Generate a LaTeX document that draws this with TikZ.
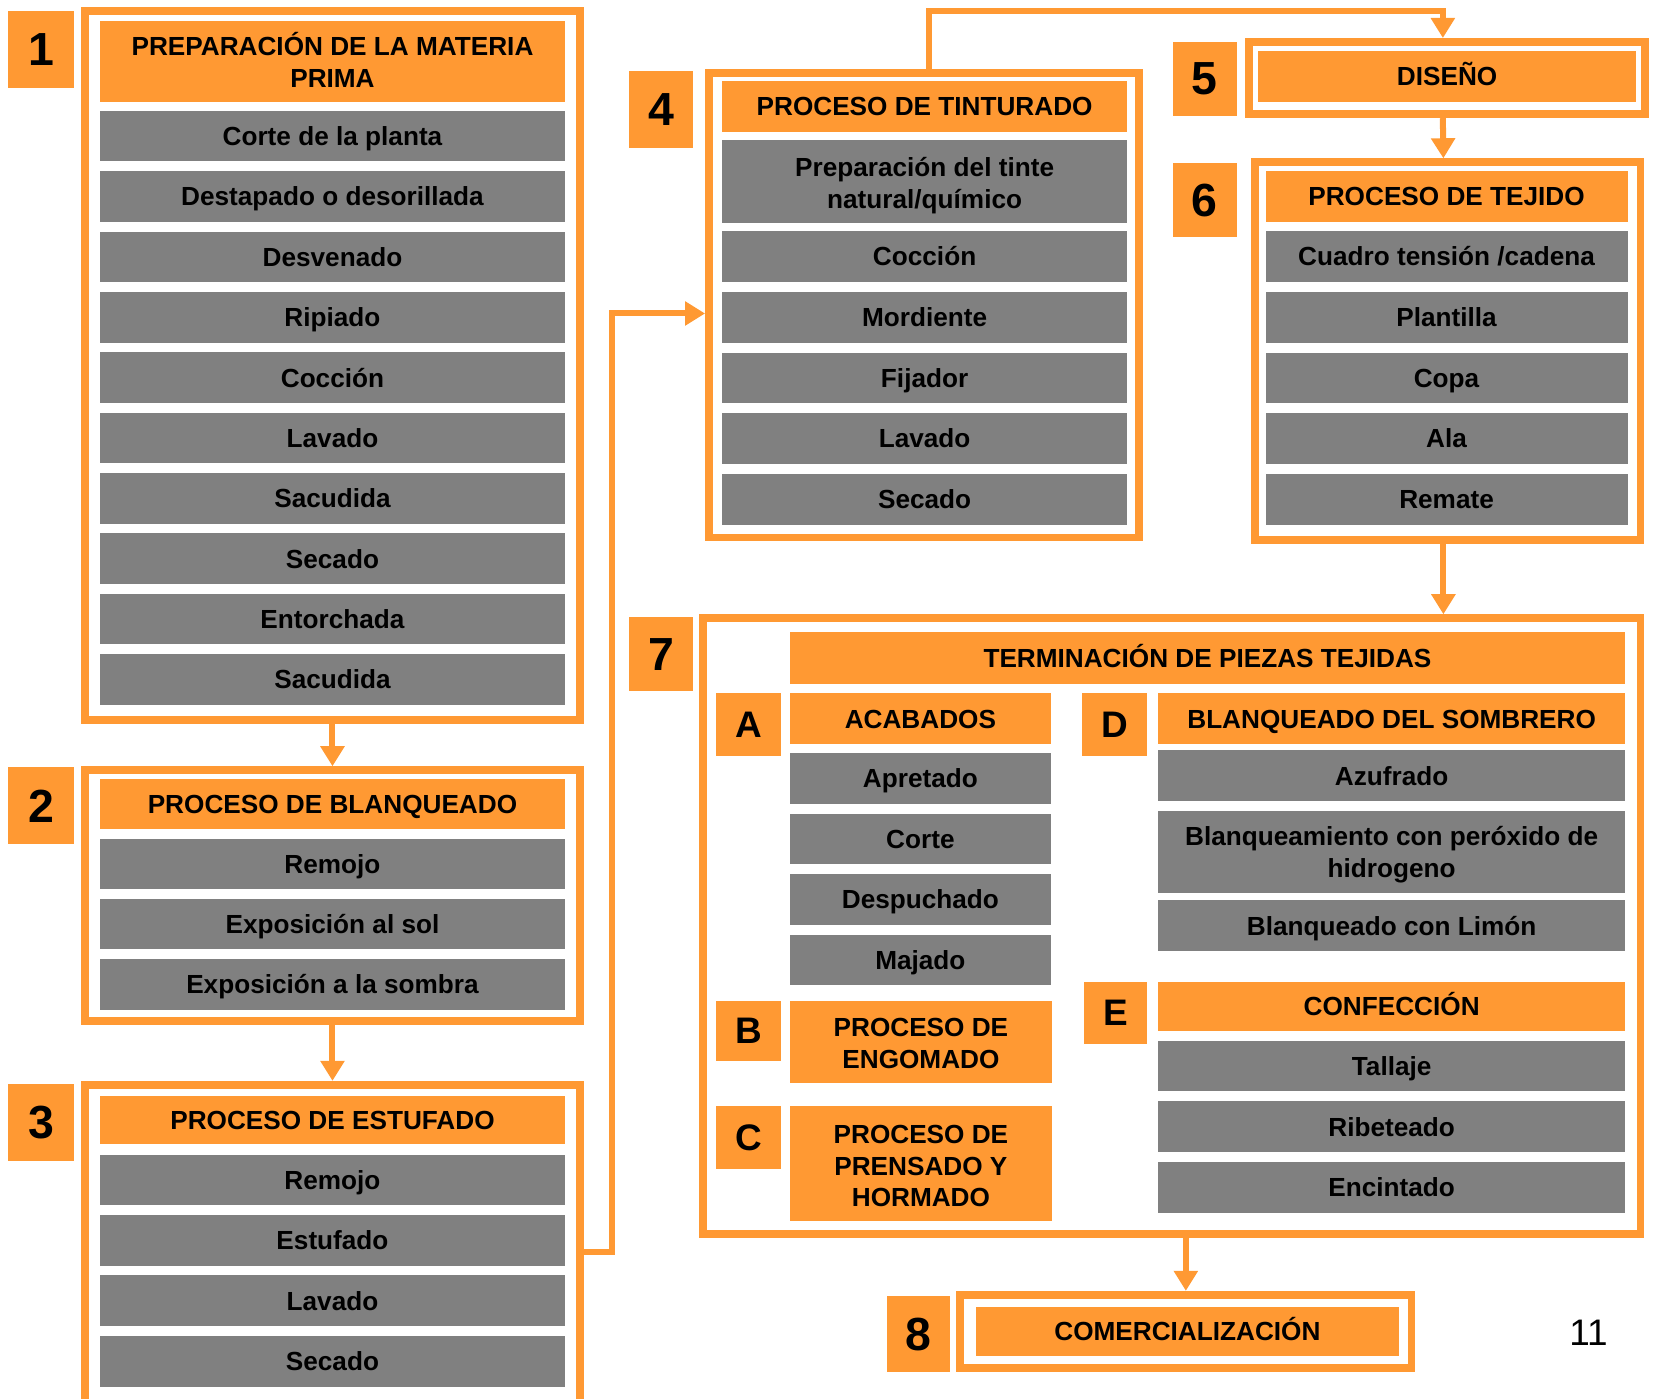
\documentclass[tikz,border=0pt]{standalone}
\usepackage{fontspec}
\setmainfont{Liberation Sans}
\usetikzlibrary{arrows.meta}
\definecolor{naranja}{HTML}{FF9933}
\definecolor{gris}{HTML}{808080}

\begin{document}
\begin{tikzpicture}[x=1pt, y=-1pt,
        marco/.style={draw=naranja, line width=7.5pt, fill=white, inner sep=0pt},
        titulo/.style={fill=naranja, inner sep=0pt, align=center, text height=17.8pt, text depth=0pt,
            font=\bfseries\fontsize{24.8}{30}\selectfont},
        paso/.style={fill=gris, inner sep=0pt, align=center, text height=17.8pt, text depth=0pt,
            font=\bfseries\fontsize{24.8}{30}\selectfont},
        varias/.style={text height=, text depth=},
        num/.style={fill=naranja, inner sep=0pt, font=\bfseries\fontsize{44}{44}\selectfont},
        letra/.style={fill=naranja, inner sep=0pt, font=\bfseries\fontsize{35}{35}\selectfont},
        tam/.style 2 args={minimum width=#1pt, minimum height=#2pt},
        flecha/.style={draw=naranja, line width=5.7pt, -{Triangle[width=22pt, length=19pt]}}]
        \useasboundingbox (0,0) rectangle (1568,1325);

        % Frames
        \node[marco, tam={468.5}{671.5}] (f1) at (315,346.5) {};
        \node[marco, tam={468.5}{237.5}] (f2) at (315,848.5) {};
        \node[marco, tam={468.5}{317.25}] (f3) at (315,1186.4) {};
        \node[marco, tam={407.5}{440.5}] (f4) at (875.5,289) {};
        \node[marco, tam={374.5}{68.5}] (f5) at (1371,74) {};
        \node[marco, tam={365.5}{357.5}] (f6) at (1371.5,332.5) {};
        \node[marco, tam={888.5}{583.5}] (f7) at (1110,877.5) {};
        \node[marco, tam={427.5}{69.5}] (f8) at (1123.5,1261.5) {};

        % Numbers
        \node[num, tam={62}{73}] (n1) at (39,46.5) {1};
        \node[num, tam={62}{73}] (n2) at (39,763.5) {2};
        \node[num, tam={62}{73}] (n3) at (39,1063.5) {3};
        \node[num, tam={61}{73}] (n4) at (626.5,103.5) {4};
        \node[num, tam={61}{70}] (n5) at (1141.5,75) {5};
        \node[num, tam={61}{71}] (n6) at (1141.5,189.5) {6};
        \node[num, tam={61}{70}] (n7) at (626.5,620) {7};
        \node[num, tam={60}{72}] (n8) at (870,1264) {8};

        % 1: materia prima
        \node[titulo, varias, tam={440}{77}] (h1) at (315,58.5) {PREPARACIÓN DE LA MATERIA\\PRIMA\rule[-4pt]{0pt}{4pt}};
        \foreach \t [count=\i] in {Corte de la planta, Destapado o desorillada, Desvenado, Ripiado,
            Cocción, Lavado, Sacudida, Secado, Entorchada, Sacudida}
            \node[paso, tam={440}{48}] (r1\i) at (315,{129+57.2*(\i-1)}) {\t};

        % 2: blanqueado
        \node[titulo, tam={440}{47}] (h2) at (315,761.5) {PROCESO DE BLANQUEADO};
        \foreach \t [count=\i] in {Remojo, Exposición al sol, Exposición a la sombra}
            \node[paso, tam={440}{48}] (r2\i) at (315,{818.5+57*(\i-1)}) {\t};

        % 3: estufado
        \node[titulo, tam={440}{46}] (h3) at (315,1061) {PROCESO DE ESTUFADO};
        \foreach \t [count=\i] in {Remojo, Estufado, Lavado, Secado}
            \node[paso, tam={440}{48}] (r3\i) at (315,{1118+57.2*(\i-1)}) {\t};

        % 4: tinturado
        \node[titulo, tam={384}{48}] (h4) at (876,101) {PROCESO DE TINTURADO};
        \node[paso, varias, tam={384}{78}] (r40) at (876,172) {\rule{0pt}{26pt}Preparación del tinte\\natural/químico};
        \foreach \t [count=\i] in {Cocción, Mordiente, Fijador, Lavado, Secado}
            \node[paso, tam={384}{48}] (r4\i) at (876,{243+57.5*(\i-1)}) {\t};

        % 5: diseno
        \node[titulo, tam={358}{49}] (h5) at (1371,72.5) {DISEÑO};

        % 6: tejido
        \node[titulo, tam={343}{48}] (h6) at (1370.5,186) {PROCESO DE TEJIDO};
        \foreach \t [count=\i] in {Cuadro tensión /cadena, Plantilla, Copa, Ala, Remate}
            \node[paso, tam={343}{48}] (r6\i) at (1370.5,{243+57.5*(\i-1)}) {\t};

        % 7: terminacion
        \node[titulo, tam={792}{49}] (h7) at (1144,623.5) {TERMINACIÓN DE PIEZAS TEJIDAS};
        \node[letra, tam={62}{59}] (la) at (709,686.5) {A};
        \node[titulo, tam={248}{48}] (ha) at (872,681) {ACABADOS};
        \foreach \t [count=\i] in {Apretado, Corte, Despuchado, Majado}
            \node[paso, tam={248}{48}] (ra\i) at (872,{737.5+57.3*(\i-1)}) {\t};
        \node[letra, tam={62}{57}] (lb) at (709,976.5) {B};
        \node[titulo, varias, tam={249}{78}] (hb) at (872.5,987) {\rule{0pt}{21pt}PROCESO DE\\ENGOMADO};
        \node[letra, tam={62}{60}] (lc) at (709,1078) {C};
        \node[titulo, varias, tam={249}{109}] (hc) at (872.5,1102.5) {\rule{0pt}{22pt}PROCESO DE\\PRENSADO Y\\HORMADO};
        \node[letra, tam={62}{59}] (ld) at (1056,686.5) {D};
        \node[titulo, tam={443}{48}] (hd) at (1318.5,681) {BLANQUEADO DEL SOMBRERO};
        \node[paso, tam={443}{48}] (rd1) at (1318.5,735) {Azufrado};
        \node[paso, varias, tam={443}{78}] (rd2) at (1318.5,807) {\rule{0pt}{24pt}Blanqueamiento con peróxido de\\hidrogeno};
        \node[paso, tam={443}{48}] (rd3) at (1318.5,877) {Blanqueado con Limón};
        \node[letra, tam={60}{59}] (le) at (1057,959.5) {E};
        \node[titulo, tam={443}{47}] (he) at (1318.5,953.5) {CONFECCIÓN};
        \foreach \t [count=\i] in {Tallaje, Ribeteado, Encintado}
            \node[paso, tam={443}{48}] (re\i) at (1318.5,{1010+57.5*(\i-1)}) {\t};

        % 8: comercializacion
        \node[titulo, tam={400}{47}] (h8) at (1125,1261.5) {COMERCIALIZACIÓN};
        \node[font=\fontsize{35}{35}\selectfont] (pag) at (1505,1263) {11};

        % Arrows
        \draw[flecha] (f1.south) -- (f2.north);
        \draw[flecha] (f2.south) -- (f3.north);
        \draw[flecha] (f3.east) -- ++(27,0) |- ([yshift=-8pt]f4.west);
        \draw[flecha] ([xshift=4.5pt]f4.north) -- ++(0,-55) -| ([xshift=-4pt]f5.north);
        \draw[flecha] ([xshift=-4pt]f5.south) -- ([xshift=-4pt]f6.north);
        \draw[flecha] ([xshift=-4pt]f6.south) -- ([xshift=-4pt]f6.south |- f7.north);
        \draw[flecha] (f8.north |- f7.south) -- (f8.north);
    \end{tikzpicture}
\end{document}
